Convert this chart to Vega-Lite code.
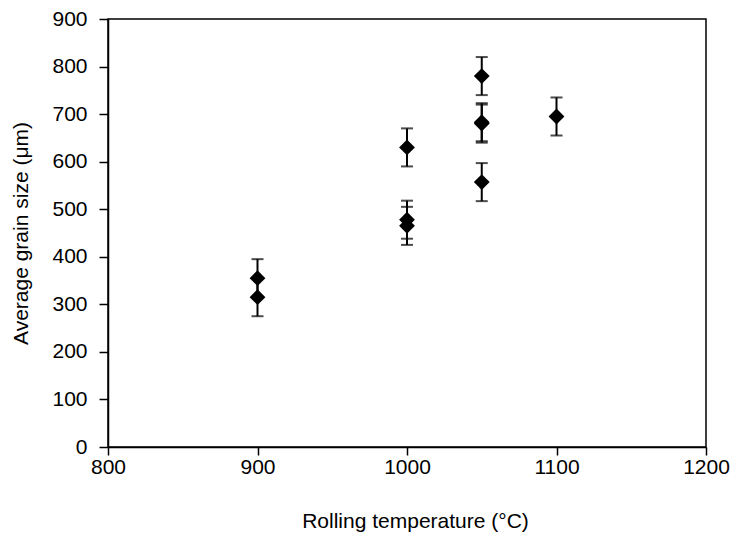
{
  "$schema": "https://vega.github.io/schema/vega-lite/v6.json",
  "autosize": {"type": "none"},
  "width": 598,
  "height": 428,
  "padding": {"left": 108, "top": 19, "right": 31, "bottom": 93},
  "background": "white",
  "config": {
    "view": {"stroke": "black", "strokeWidth": 1.5}
  },
  "data": {
    "values": [
      {"temp": 900, "size": 355, "lo": 315, "hi": 395},
      {"temp": 900, "size": 315, "lo": 275, "hi": 355},
      {"temp": 1000, "size": 630, "lo": 590, "hi": 670},
      {"temp": 1000, "size": 478, "lo": 438, "hi": 518},
      {"temp": 1000, "size": 465, "lo": 425, "hi": 505},
      {"temp": 1050, "size": 780, "lo": 740, "hi": 820},
      {"temp": 1050, "size": 683, "lo": 643, "hi": 723},
      {"temp": 1050, "size": 680, "lo": 640, "hi": 720},
      {"temp": 1050, "size": 557, "lo": 517, "hi": 597},
      {"temp": 1100, "size": 695, "lo": 655, "hi": 735}
    ]
  },
  "layer": [
    {
      "mark": {"type": "rule", "color": "black", "strokeWidth": 2},
      "encoding": {
        "x": {"field": "temp", "type": "quantitative", "scale": {"domain": [800, 1200], "nice": false},
              "axis": {"values": [800, 900, 1000, 1100, 1200], "format": "d", "grid": false, "labelFlush": false,
                       "domainColor": "black", "domainWidth": 1.5, "tickColor": "black", "tickWidth": 1.5, "tickSize": 8,
                       "labelFont": "Liberation Sans", "labelFontSize": 21, "labelColor": "black", "labelPadding": 1,
                       "titleFont": "Liberation Sans", "titleFontSize": 21, "titleFontWeight": "normal", "titleColor": "black",
                       "titlePadding": 33, "titleX": 307, "title": "Rolling temperature (°C)"}},
        "y": {"field": "lo", "type": "quantitative", "scale": {"domain": [0, 900], "nice": false},
              "axis": {"values": [0, 100, 200, 300, 400, 500, 600, 700, 800, 900], "format": "d", "grid": false, "labelFlush": false,
                       "domainColor": "black", "domainWidth": 1.5, "tickColor": "black", "tickWidth": 1.5, "tickSize": 9,
                       "labelFont": "Liberation Sans", "labelFontSize": 21, "labelColor": "black", "labelPadding": 12,
                       "titleFont": "Liberation Sans", "titleFontSize": 21, "titleFontWeight": "normal", "titleColor": "black",
                       "titlePadding": 20, "title": "Average grain size (μm)"}},
        "y2": {"field": "hi"}
      }
    },
    {
      "mark": {"type": "tick", "orient": "horizontal", "color": "black", "size": 12, "thickness": 2},
      "encoding": {
        "x": {"field": "temp", "type": "quantitative"},
        "y": {"field": "lo", "type": "quantitative"}
      }
    },
    {
      "mark": {"type": "tick", "orient": "horizontal", "color": "black", "size": 12, "thickness": 2},
      "encoding": {
        "x": {"field": "temp", "type": "quantitative"},
        "y": {"field": "hi", "type": "quantitative"}
      }
    },
    {
      "mark": {"type": "point", "shape": "diamond", "filled": true, "color": "black", "size": 250, "opacity": 1},
      "encoding": {
        "x": {"field": "temp", "type": "quantitative"},
        "y": {"field": "size", "type": "quantitative"}
      }
    }
  ]
}
